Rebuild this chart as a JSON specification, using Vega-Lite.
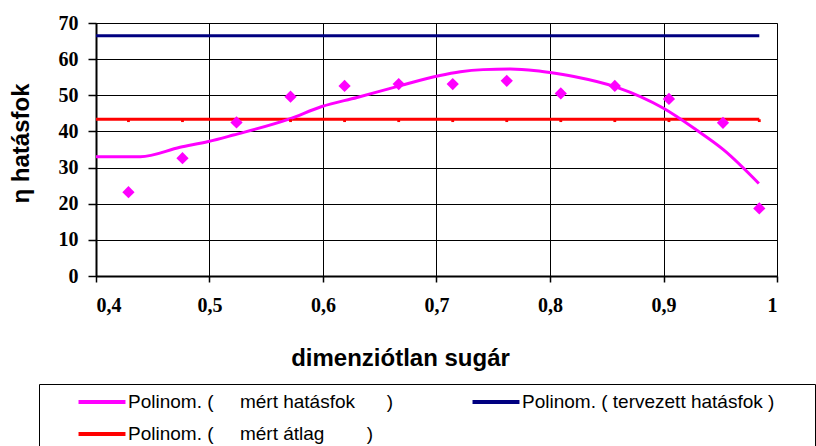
{
  "$schema": "https://vega.github.io/schema/vega-lite/v6.json",
  "width": 681,
  "height": 253,
  "autosize": {"type": "none"},
  "padding": {"left": 96, "top": 23, "right": 39, "bottom": 170},
  "background": "white",
  "config": {"view": {"stroke": "#888888", "strokeWidth": 1}},
  "datasets": {
    "points": [
      {"x": 0.4286, "y": 23.2}, {"x": 0.4762, "y": 32.6}, {"x": 0.5238, "y": 42.5},
      {"x": 0.5714, "y": 49.6}, {"x": 0.619, "y": 52.6}, {"x": 0.6667, "y": 53.1},
      {"x": 0.7143, "y": 53.1}, {"x": 0.7619, "y": 54.0}, {"x": 0.8095, "y": 50.5},
      {"x": 0.8571, "y": 52.6}, {"x": 0.9048, "y": 49.0}, {"x": 0.9524, "y": 42.4},
      {"x": 0.9844, "y": 18.7}
    ],
    "markers": [
      {"x": 0.4286, "y": 43.4}, {"x": 0.4762, "y": 43.4}, {"x": 0.5238, "y": 43.4},
      {"x": 0.5714, "y": 43.4}, {"x": 0.619, "y": 43.4}, {"x": 0.6667, "y": 43.4},
      {"x": 0.7143, "y": 43.4}, {"x": 0.7619, "y": 43.4}, {"x": 0.8095, "y": 43.4},
      {"x": 0.8571, "y": 43.4}, {"x": 0.9048, "y": 43.4}, {"x": 0.9524, "y": 43.4},
      {"x": 0.9844, "y": 43.4}
    ],
    "lines": [
      {"series": "tervezett hatásfok", "x": 0.4, "y": 66.5},
      {"series": "tervezett hatásfok", "x": 0.9844, "y": 66.5},
      {"series": "mért átlag", "x": 0.4, "y": 43.4},
      {"series": "mért átlag", "x": 0.9844, "y": 43.4},
      {"series": "mért hatásfok", "x": 0.4, "y": 33.0},
      {"series": "mért hatásfok", "x": 0.439, "y": 33.0},
      {"series": "mért hatásfok", "x": 0.474, "y": 35.6},
      {"series": "mért hatásfok", "x": 0.499, "y": 37.2},
      {"series": "mért hatásfok", "x": 0.521, "y": 39.0},
      {"series": "mért hatásfok", "x": 0.57, "y": 43.4},
      {"series": "mért hatásfok", "x": 0.599, "y": 46.9},
      {"series": "mért hatásfok", "x": 0.63, "y": 49.4},
      {"series": "mért hatásfok", "x": 0.665, "y": 52.4},
      {"series": "mért hatásfok", "x": 0.702, "y": 55.4},
      {"series": "mért hatásfok", "x": 0.721, "y": 56.5},
      {"series": "mért hatásfok", "x": 0.741, "y": 57.1},
      {"series": "mért hatásfok", "x": 0.765, "y": 57.3},
      {"series": "mért hatásfok", "x": 0.788, "y": 56.8},
      {"series": "mért hatásfok", "x": 0.8, "y": 56.3},
      {"series": "mért hatásfok", "x": 0.821, "y": 55.2},
      {"series": "mért hatásfok", "x": 0.859, "y": 52.2},
      {"series": "mért hatásfok", "x": 0.9, "y": 46.4},
      {"series": "mért hatásfok", "x": 0.929, "y": 40.4},
      {"series": "mért hatásfok", "x": 0.953, "y": 34.9},
      {"series": "mért hatásfok", "x": 0.984, "y": 25.6}
    ]
  },
  "encoding": {
    "x": {
      "field": "x", "type": "quantitative",
      "scale": {"domain": [0.4, 1.0], "nice": false, "zero": false},
      "axis": {
        "values": [0.4, 0.5, 0.6, 0.7, 0.8, 0.9, 1.0],
        "grid": true, "gridColor": "black", "gridWidth": 1, "gridOpacity": 1,
        "domainColor": "black", "domainWidth": 2,
        "tickColor": "black", "tickSize": 6, "tickWidth": 1.5,
        "labelFont": "Liberation Serif", "labelFontWeight": "bold", "labelFontSize": 20,
        "labelColor": "black", "labelPadding": 13, "labelOverlap": false,
        "labelExpr": "replace(format(datum.value, '.1~f'), '.', ',')",
        "title": "dimenziótlan sugár",
        "titleFont": "Liberation Sans", "titleFontSize": 24, "titleFontWeight": "bold",
        "titleColor": "black", "titleX": 304, "titleY": 89, "titleBaseline": "alphabetic", "titleAlign": "center"
      }
    },
    "y": {
      "field": "y", "type": "quantitative",
      "scale": {"domain": [0, 70], "nice": false},
      "axis": {
        "values": [0, 10, 20, 30, 40, 50, 60, 70],
        "grid": true, "gridColor": "black", "gridWidth": 1, "gridOpacity": 1,
        "domainColor": "black", "domainWidth": 2,
        "tickColor": "black", "tickSize": 8, "tickWidth": 1.5,
        "labelFont": "Liberation Serif", "labelFontWeight": "bold", "labelFontSize": 20,
        "labelColor": "black", "labelPadding": 10, "labelOverlap": false,
        "title": "η hatásfok",
        "titleFont": "Liberation Sans", "titleFontSize": 24, "titleFontWeight": "bold",
        "titleColor": "black", "titleX": -68, "titleY": 120, "titleAngle": 270,
        "titleBaseline": "alphabetic", "titleAlign": "center"
      }
    }
  },
  "layer": [
    {
      "data": {"name": "lines"},
      "mark": {"type": "line", "strokeWidth": 3, "interpolate": "monotone"},
      "encoding": {
        "color": {
          "field": "series", "type": "nominal",
          "scale": {
            "domain": ["mért hatásfok", "tervezett hatásfok", "mért átlag"],
            "range": ["#FF00FF", "#000080", "#FF0000"]
          },
          "legend": {
            "orient": "none", "legendX": -57, "legendY": 361,
            "title": null, "columns": 2, "direction": "horizontal",
            "symbolType": "M-3,0H3", "symbolSize": 245, "symbolStrokeWidth": 4,
            "symbolOffset": 45,
            "labelFont": "Liberation Sans", "labelFontSize": 19, "labelColor": "black",
            "labelOffset": 16, "labelLimit": 1000,
            "strokeColor": "black", "fillColor": "white", "padding": 8,
            "columnPadding": 47, "rowPadding": 12,
            "labelExpr": "datum.label == 'mért hatásfok' ? 'Polinom. (\u00a0\u00a0\u00a0\u00a0\u00a0mért hatásfok\u00a0\u00a0\u00a0\u00a0\u00a0\u00a0)' : datum.label == 'tervezett hatásfok' ? 'Polinom. ( tervezett hatásfok )\u00a0\u00a0\u00a0\u00a0\u00a0\u00a0\u200b' : 'Polinom. (\u00a0\u00a0\u00a0\u00a0\u00a0mért átlag\u00a0\u00a0\u00a0\u00a0\u00a0\u00a0\u00a0\u00a0)'"
          }
        }
      }
    },
    {
      "data": {"name": "markers"},
      "mark": {"type": "point", "shape": "square", "filled": true, "size": 8, "color": "#FF0000", "opacity": 1, "yOffset": 1.5}
    },
    {
      "data": {"name": "points"},
      "mark": {"type": "point", "shape": "diamond", "filled": true, "size": 150, "color": "#FF00FF", "opacity": 1}
    }
  ]
}
